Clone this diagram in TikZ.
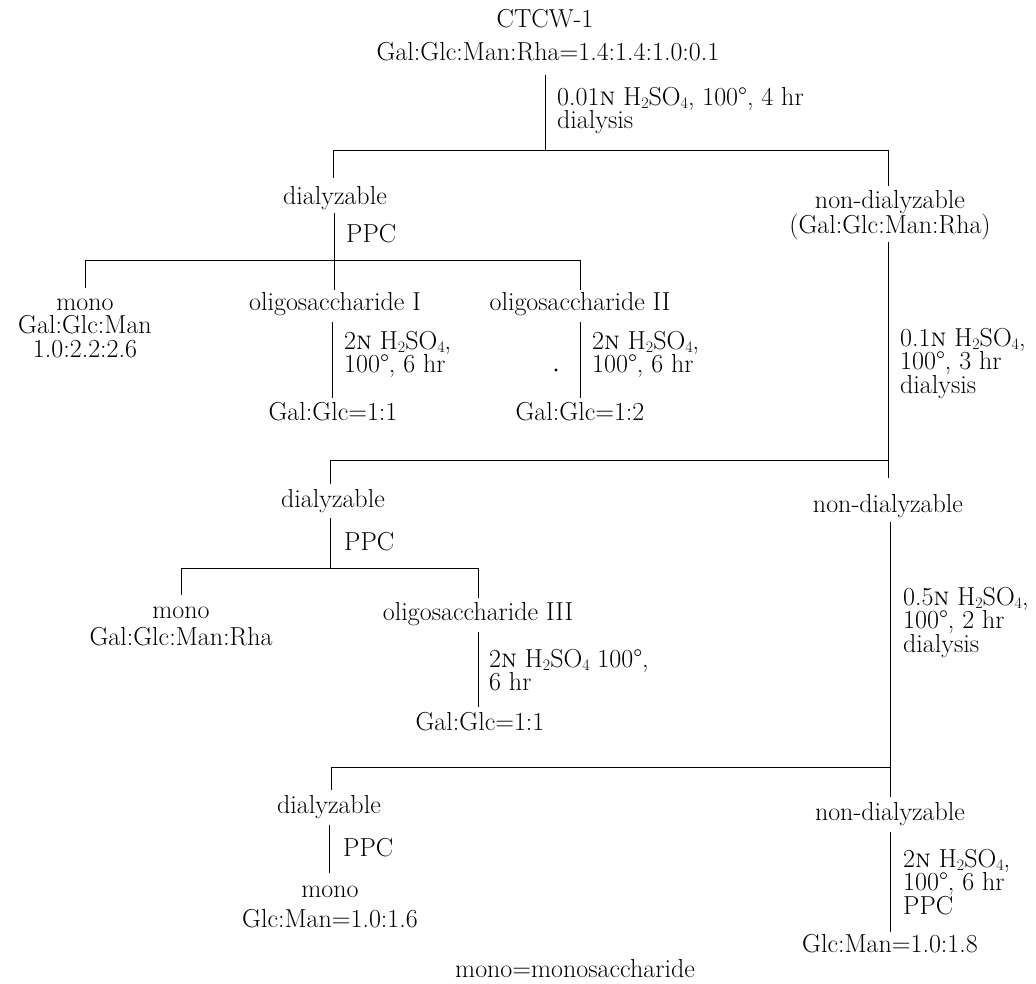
\documentclass[tikz,border=0pt]{standalone}
\usepackage{fontspec}
\newcommand{\sbs}[1]{\raisebox{-0.14em}{\fontsize{16}{16}\selectfont #1}}
\newcommand{\nn}{\textsc{n}}
\newcommand{\tp}{\rule{0pt}{19.5pt}}
\begin{document}
\begin{tikzpicture}[x=1pt,y=-1pt,
  txt/.style={inner sep=0pt, anchor=base, font=\fontsize{26}{23.5}\selectfont},
  lft/.style={txt, anchor=base west},
  lbl/.style={txt, anchor=north west, align=left},
  stk/.style={txt, anchor=north, align=center},
  ln/.style={line width=1pt, black}]
\useasboundingbox (0,0) rectangle (1036,984);
% top
\node[txt] (ctcw) at (545,28) {CTCW-1};
\node[txt] (comp) at (548,61) {Gal:Glc:Man:Rha=1.4:1.4:1.0:0.1};
\coordinate (t1a) at (545,75); \coordinate (t1b) at (545,151);
\node[lbl] (c1) at (557,85.5) {\tp 0.01\nn{} H\sbs{2}SO\sbs{4}, 100°, 4 hr\\dialysis};
\coordinate (b1l) at (333,151); \coordinate (b1r) at (888,151);
\coordinate (d1l) at (333,178); \coordinate (d1r) at (888,186);
\draw[ln] (t1a) -- (t1b);
\draw[ln] (d1l) -- (b1l) -- (b1r) -- (d1r);
\node[txt] (dial1) at (335,205) {dialyzable};
\node[stk] (nond1) at (890,188.5) {\tp non-dialyzable\\(Gal:Glc:Man:Rha)};
% left level 1
\coordinate (v2a) at (334,213); \coordinate (v2b) at (334,261);
\node[lft] (ppc1) at (346,243) {PPC};
\coordinate (b2l) at (85,261); \coordinate (b2r) at (580,261);
\coordinate (d2l) at (85,288); \coordinate (d2m) at (334,290); \coordinate (d2r) at (580,290);
\draw[ln] (v2a) -- (v2b);
\draw[ln] (d2l) -- (b2l) -- (b2r) -- (d2r);
\draw[ln] (v2b) -- (d2m);
\node[stk] (mono1) at (85,290.5) {\tp mono\\Gal:Glc:Man\\1.0:2.2:2.6};
\node[txt] (oli1) at (335,310) {oligosaccharide I};
\coordinate (v3a) at (332,322); \coordinate (v3b) at (332,398);
\draw[ln] (v3a) -- (v3b);
\node[lbl] (c3) at (344,329.5) {\tp 2\nn{} H\sbs{2}SO\sbs{4},\\100°, 6 hr};
\node[txt] (r1) at (333,420) {Gal:Glc=1:1};
\node[txt] (oli2) at (580,310) {oligosaccharide II};
\coordinate (v4a) at (580,322); \coordinate (v4b) at (580,398);
\draw[ln] (v4a) -- (v4b);
\fill (556,370) circle (1.6);
\node[lbl] (c4) at (592,329.5) {\tp 2\nn{} H\sbs{2}SO\sbs{4},\\100°, 6 hr};
\node[txt] (r2) at (580,420) {Gal:Glc=1:2};
% right trunk 1
\coordinate (rt1a) at (888,242); \coordinate (rt1b) at (888,478);
\draw[ln] (rt1a) -- (rt1b);
\node[lbl] (c5) at (900,326.5) {\tp 0.1\nn{} H\sbs{2}SO\sbs{4},\\100°, 3 hr\\dialysis};
\coordinate (b3l) at (330,460); \coordinate (b3r) at (888,460);
\coordinate (d3l) at (330,484);
\draw[ln] (d3l) -- (b3l) -- (b3r);
% level 2
\node[txt] (dial2) at (333,507) {dialyzable};
\node[txt] (nond2) at (888,512) {non-dialyzable};
\coordinate (v6a) at (330,518); \coordinate (v6b) at (330,568);
\draw[ln] (v6a) -- (v6b);
\node[lft] (ppc2) at (344,550) {PPC};
\coordinate (b4l) at (181,568); \coordinate (b4r) at (478,568);
\coordinate (d4l) at (181,595); \coordinate (d4r) at (478,598);
\draw[ln] (d4l) -- (b4l) -- (b4r) -- (d4r);
\node[txt] (mono2) at (181,618) {mono};
\node[txt] (mono2b) at (181,645) {Gal:Glc:Man:Rha};
\node[txt] (oli3) at (478,620) {oligosaccharide III};
\coordinate (v7a) at (478,632); \coordinate (v7b) at (478,707);
\draw[ln] (v7a) -- (v7b);
\node[lbl] (c7) at (489,647.5) {\tp 2\nn{} H\sbs{2}SO\sbs{4} 100°,\\6 hr};
\node[txt] (r3) at (480,730) {Gal:Glc=1:1};
% right trunk 2
\coordinate (rt2a) at (890,522); \coordinate (rt2b) at (890,797);
\draw[ln] (rt2a) -- (rt2b);
\node[lbl] (c8) at (903,585.5) {\tp 0.5\nn{} H\sbs{2}SO\sbs{4},\\100°, 2 hr\\dialysis};
\coordinate (b5l) at (331,767); \coordinate (b5r) at (890,767);
\coordinate (d5l) at (331,790);
\draw[ln] (d5l) -- (b5l) -- (b5r);
% level 3
\node[txt] (dial3) at (329,813) {dialyzable};
\coordinate (v9a) at (329,825); \coordinate (v9b) at (329,873);
\draw[ln] (v9a) -- (v9b);
\node[lft] (ppc3) at (343,856) {PPC};
\node[txt] (mono3) at (330,897) {mono};
\node[txt] (mono3b) at (330,927) {Glc:Man=1.0:1.6};
\node[txt] (nond3) at (890,820) {non-dialyzable};
\coordinate (v10a) at (890,832); \coordinate (v10b) at (890,932);
\draw[ln] (v10a) -- (v10b);
\node[lbl] (c10) at (903,847.5) {\tp 2\nn{} H\sbs{2}SO\sbs{4},\\100°, 6 hr\\PPC};
\node[txt] (r4) at (890,952) {Glc:Man=1.0:1.8};
\node[txt] (legend) at (575,977) {mono=monosaccharide};
\end{tikzpicture}
\end{document}
